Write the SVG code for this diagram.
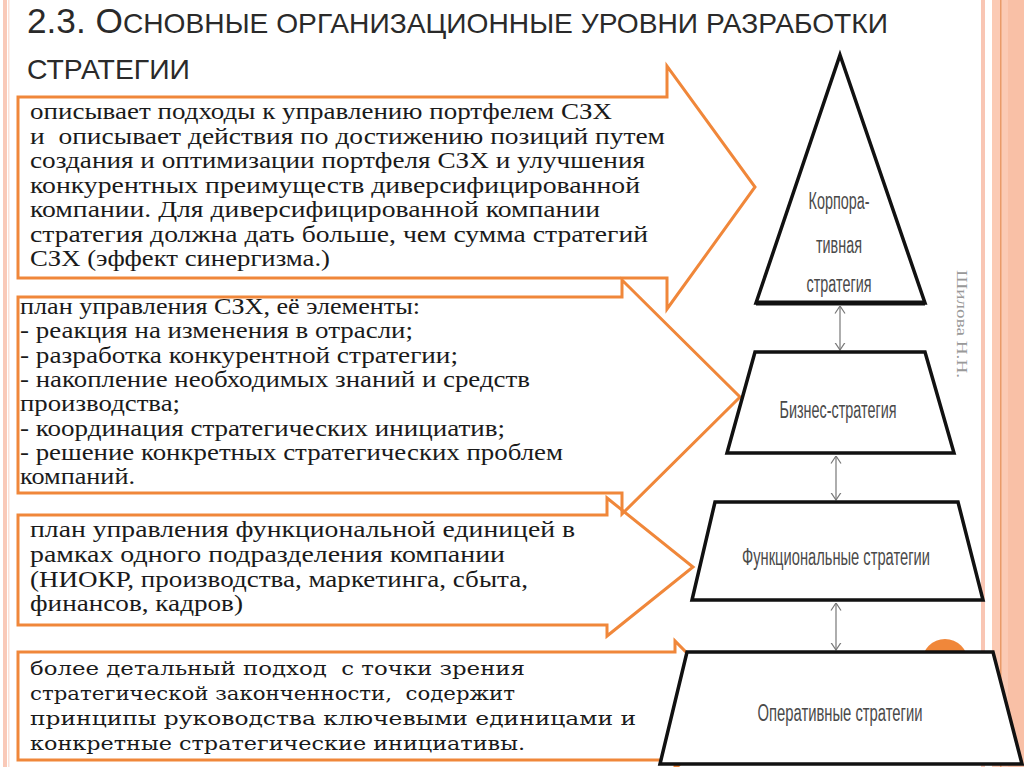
<svg xmlns="http://www.w3.org/2000/svg" width="1024" height="767" viewBox="0 0 1024 767">
<style>
.arrow{fill:none;stroke:#f0873a;stroke-width:3;stroke-linejoin:miter}
.lvl{fill:#fff;stroke:#111;stroke-width:3.5;stroke-linejoin:miter}
.base{stroke:#111;stroke-width:5}
.conn{stroke:#777;stroke-width:1.2;fill:none}
.t1{font-family:"Liberation Serif","Noto Serif",serif;font-size:23px;fill:#1a1a1a}
.t4{font-family:"DejaVu Serif","Liberation Serif",serif;font-size:19px;fill:#1a1a1a}
.lab{font-family:"Liberation Sans Narrow","Liberation Sans",sans-serif;font-size:23px;fill:#4a4a4a;text-anchor:middle}
.title{font-family:"Liberation Sans Narrow","Liberation Sans",sans-serif;fill:#2a2a2a}
</style>
<defs>
<marker id="ah" viewBox="0 0 8 12" refX="7.5" refY="6" markerWidth="8" markerHeight="12" markerUnits="userSpaceOnUse" orient="auto-start-reverse">
<path d="M0,1 L7.5,6 L0,11" fill="none" stroke="#777" stroke-width="1.2"/>
</marker>
</defs>
<rect width="1024" height="767" fill="#fff"/>
<rect x="3" y="0" width="4" height="767" fill="#f9c9b8"/>
<rect x="8" y="0" width="1.5" height="767" fill="#fbe0d6"/>
<rect x="981" y="0" width="4" height="767" fill="#f9c6b4"/>
<rect x="992" y="0" width="32" height="767" fill="#fbcab4"/>
<rect x="1000" y="0" width="1.5" height="767" fill="#e99a68"/>
<rect x="1008" y="0" width="16" height="767" fill="#f9c0a6"/>
<g id="title">
<text class="title" x="27" y="33" textLength="861" lengthAdjust="spacingAndGlyphs"><tspan font-size="35">2.3. О</tspan><tspan font-size="28">СНОВНЫЕ ОРГАНИЗАЦИОННЫЕ УРОВНИ РАЗРАБОТКИ</tspan></text>
<text class="title" x="27" y="79" font-size="28" textLength="163" lengthAdjust="spacingAndGlyphs">СТРАТЕГИИ</text>
</g>
<g id="author">
<text transform="translate(957,270) rotate(90)" font-family="Liberation Serif,serif" font-size="15" fill="#999" textLength="108" lengthAdjust="spacingAndGlyphs">Шилова Н.Н.</text>
</g>
<g id="arrow1">
<path class="arrow" d="M18,97 H667 V66 L755,187 L667,309 V278 H18 Z"/>
<text class="t1" x="30" y="119" textLength="582" lengthAdjust="spacingAndGlyphs">описывает подходы к управлению портфелем СЗХ</text>
<text class="t1" x="30" y="143.5" textLength="635" lengthAdjust="spacingAndGlyphs" xml:space="preserve">и  описывает действия по достижению позиций путем</text>
<text class="t1" x="30" y="168" textLength="615" lengthAdjust="spacingAndGlyphs">создания и оптимизации портфеля СЗХ и улучшения</text>
<text class="t1" x="30" y="192.5" textLength="610" lengthAdjust="spacingAndGlyphs">конкурентных преимуществ диверсифицированной</text>
<text class="t1" x="30" y="217" textLength="570" lengthAdjust="spacingAndGlyphs">компании. Для диверсифицированной компании</text>
<text class="t1" x="30" y="241.5" textLength="618" lengthAdjust="spacingAndGlyphs">стратегия должна дать больше, чем сумма стратегий</text>
<text class="t1" x="30" y="266" textLength="300" lengthAdjust="spacingAndGlyphs">СЗХ (эффект синергизма.)</text>
</g>
<g id="arrow2">
<path class="arrow" d="M18,297 H622 V280 L740,397 L622,514 V493 H18 Z"/>
<text class="t1" x="20" y="314" textLength="400" lengthAdjust="spacingAndGlyphs">план управления СЗХ, её элементы:</text>
<text class="t1" x="20" y="338" textLength="393" lengthAdjust="spacingAndGlyphs">- реакция на изменения в отрасли;</text>
<text class="t1" x="20" y="362.5" textLength="438" lengthAdjust="spacingAndGlyphs">- разработка конкурентной стратегии;</text>
<text class="t1" x="20" y="387" textLength="510" lengthAdjust="spacingAndGlyphs">- накопление необходимых знаний и средств</text>
<text class="t1" x="20" y="411" textLength="160" lengthAdjust="spacingAndGlyphs">производства;</text>
<text class="t1" x="20" y="435.5" textLength="485" lengthAdjust="spacingAndGlyphs">- координация стратегических инициатив;</text>
<text class="t1" x="20" y="460" textLength="543" lengthAdjust="spacingAndGlyphs">- решение конкретных стратегических проблем</text>
<text class="t1" x="20" y="484" textLength="115" lengthAdjust="spacingAndGlyphs">компаний.</text>
</g>
<g id="arrow3">
<path class="arrow" d="M18,515 H607 V498 L693,567 L607,636 V625 H18 Z"/>
<text class="t1" x="30" y="537" textLength="545" lengthAdjust="spacingAndGlyphs">план управления функциональной единицей в</text>
<text class="t1" x="30" y="562" textLength="475" lengthAdjust="spacingAndGlyphs">рамках одного подразделения компании</text>
<text class="t1" x="30" y="586.5" textLength="498" lengthAdjust="spacingAndGlyphs">(НИОКР, производства, маркетинга, сбыта,</text>
<text class="t1" x="30" y="611" textLength="213" lengthAdjust="spacingAndGlyphs">финансов, кадров)</text>
</g>
<g id="arrow4">
<path class="arrow" d="M18,652 H675 V641 L738,705 L675,769 V760 H18 Z"/>
<text class="t4" x="30" y="675" textLength="495" lengthAdjust="spacingAndGlyphs" xml:space="preserve">более детальный подход  с точки зрения</text>
<text class="t4" x="30" y="700" textLength="485" lengthAdjust="spacingAndGlyphs" xml:space="preserve">стратегической законченности,  содержит</text>
<text class="t4" x="30" y="725" textLength="606" lengthAdjust="spacingAndGlyphs">принципы руководства ключевыми единицами и</text>
<text class="t4" x="30" y="750" textLength="495" lengthAdjust="spacingAndGlyphs">конкретные стратегические инициативы.</text>
</g>
<g id="connectors">
<line class="conn" x1="840" y1="306" x2="840" y2="350" marker-start="url(#ah)" marker-end="url(#ah)"/>
<line class="conn" x1="836" y1="456" x2="836" y2="500" marker-start="url(#ah)" marker-end="url(#ah)"/>
<line class="conn" x1="836" y1="603" x2="836" y2="650" marker-start="url(#ah)" marker-end="url(#ah)"/>
</g>
<g id="corporate">
<path class="lvl" d="M840,55 L925,303 L756,303 Z"/>
<line class="base" x1="756" y1="303" x2="925" y2="303"/>
<text class="lab" x="839" y="209" textLength="61" lengthAdjust="spacingAndGlyphs">Корпора-</text>
<text class="lab" x="839" y="253" textLength="46" lengthAdjust="spacingAndGlyphs">тивная</text>
<text class="lab" x="839" y="292" textLength="65" lengthAdjust="spacingAndGlyphs">стратегия</text>
</g>
<g id="business">
<path class="lvl" d="M755,352 L925,352 L954,453 L727,453 Z"/>
<text class="lab" x="838" y="418" textLength="117" lengthAdjust="spacingAndGlyphs">Бизнес-стратегия</text>
</g>
<g id="functional">
<path class="lvl" d="M715,502 L958,502 L983,600 L692,600 Z"/>
<text class="lab" x="836" y="565" font-size="22" textLength="188" lengthAdjust="spacingAndGlyphs">Функциональные стратегии</text>
</g>
<g id="operational">
<circle cx="945" cy="662" r="23" fill="#f0873a"/>
<path class="lvl" d="M687,652 L993,652 L1022,764 L660,764 Z"/>
<text class="lab" x="840" y="721" textLength="165" lengthAdjust="spacingAndGlyphs">Оперативные стратегии</text>
</g>
</svg>
